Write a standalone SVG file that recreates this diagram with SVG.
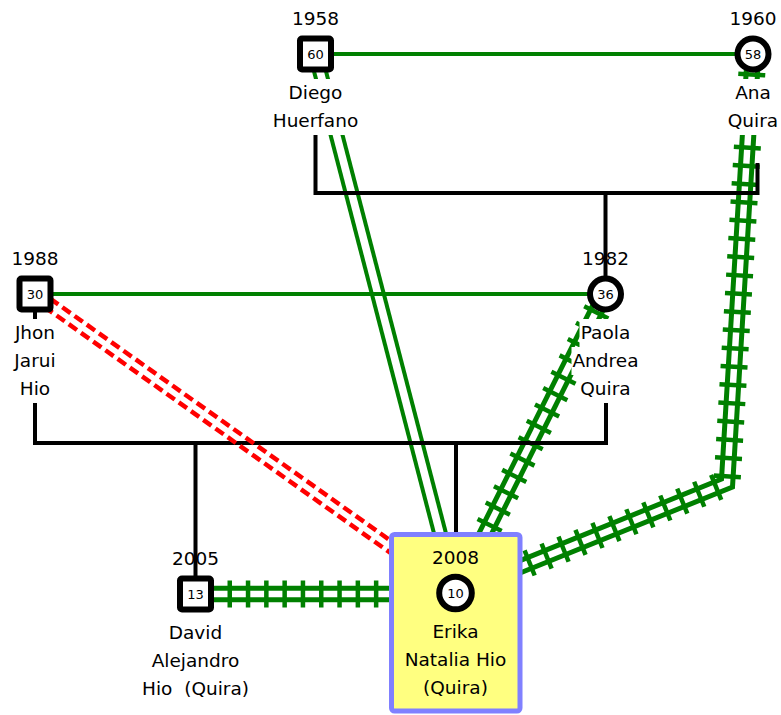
<svg xmlns="http://www.w3.org/2000/svg" width="781" height="715" viewBox="0 0 781 715">
<style>
.t{font-family:"DejaVu Sans","Liberation Sans",sans-serif;font-size:18.5px;fill:#000;text-anchor:middle}
.n{font-family:"DejaVu Sans","Liberation Sans",sans-serif;font-size:13px;fill:#000;text-anchor:middle}
.bg{fill:#fff}
.m{stroke:#008000;stroke-width:4;fill:none}
.g2{stroke:#008000;stroke-width:4;fill:none}
.hl{stroke:#008000;stroke-width:5;fill:none;stroke-linejoin:miter}
.ht{stroke:#008000;stroke-width:27;stroke-dasharray:4.5 13.8;fill:none;stroke-linejoin:miter}
.c{stroke:#000;stroke-width:4;fill:none;stroke-linejoin:miter;stroke-linecap:square}
.rd{stroke:#f00;stroke-width:4.5;stroke-dasharray:10 5;fill:none}
.sq{fill:#fff;stroke:#000;stroke-width:6}
.ci{fill:#fff;stroke:#000;stroke-width:6}
.hb{fill:#ffff80;stroke:#8080ff;stroke-width:5}
</style>
<rect width="781" height="715" fill="#fff"/>
<g id="connectors">
  <path class="ht" d="M753,54 L727,483 L455.5,593"/>
  <path class="hl" d="M758.7,54.35 L732.5,487 L457.7,598.3"/>
  <path class="hl" d="M747.3,53.65 L721.5,479 L453.3,587.7"/>
  <path class="ht" d="M605.5,294 L455.5,593"/>
  <path class="hl" d="M610.2,296.1 L460.7,595.6"/>
  <path class="hl" d="M599.9,290.9 L450.4,590.4"/>
  <path class="ht" d="M214,594 H392" stroke-dashoffset="4.8"/>
  <path class="hl" d="M214,588.25 H392"/>
  <path class="hl" d="M214,599.75 H392"/>
  <path class="g2" d="M321.1,52.5 L461.1,591.5"/>
  <path class="g2" d="M309.9,55.5 L449.9,594.5"/>
  <path class="m" d="M334,54 H735"/>
  <path class="m" d="M53,294 H588"/>
  <path class="c" d="M315.5,130 V193 H757.5 V165"/>
  <path class="c" d="M605.5,193 V276"/>
  <path class="c" d="M35,312 V443 H606 V400"/>
  <path class="c" d="M195.5,443 V577"/>
  <path class="c" d="M456,443 V533"/>
  <path class="rd" d="M37.9,289.9 L458.4,588.9"/>
  <path class="rd" d="M32.1,298.1 L452.6,597.1"/>
</g>
<g id="diego">
  <rect class="bg" x="287.5" y="79" width="56" height="28"/>
  <rect class="bg" x="271.5" y="107" width="88" height="28"/>
  <rect class="sq" x="300" y="38.5" width="31" height="31" rx="2"/>
  <text class="n" x="315.5" y="58.5">60</text>
  <text class="t" x="315.5" y="25">1958</text>
  <text class="t" x="315.5" y="99">Diego</text>
  <text class="t" x="315.5" y="127">Huerfano</text>
</g>
<g id="ana">
  <rect class="bg" x="734" y="79" width="38" height="28"/>
  <rect class="bg" x="727" y="107" width="52" height="28"/>
  <circle class="ci" cx="753" cy="54" r="15.5"/>
  <text class="n" x="753" y="58.5">58</text>
  <text class="t" x="753" y="25">1960</text>
  <text class="t" x="753" y="99">Ana</text>
  <text class="t" x="753" y="127">Quira</text>
</g>
<g id="jhon">
  <rect class="bg" x="14" y="319" width="42" height="28"/>
  <rect class="bg" x="13.5" y="347" width="43" height="28"/>
  <rect class="bg" x="19" y="375" width="32" height="28"/>
  <rect class="sq" x="19.5" y="278.5" width="31" height="31" rx="2"/>
  <text class="n" x="35" y="298.5">30</text>
  <text class="t" x="35" y="265">1988</text>
  <text class="t" x="35" y="339">Jhon</text>
  <text class="t" x="35" y="367">Jarui</text>
  <text class="t" x="35" y="395">Hio</text>
</g>
<g id="paola">
  <rect class="bg" x="579.5" y="319" width="52" height="28"/>
  <rect class="bg" x="571.5" y="347" width="68" height="28"/>
  <rect class="bg" x="579.5" y="375" width="52" height="28"/>
  <circle class="ci" cx="605.5" cy="294" r="15.5"/>
  <text class="n" x="605.5" y="298.5">36</text>
  <text class="t" x="605.5" y="265">1982</text>
  <text class="t" x="605.5" y="339">Paola</text>
  <text class="t" x="605.5" y="367">Andrea</text>
  <text class="t" x="605.5" y="395">Quira</text>
</g>
<g id="david">
  <rect class="sq" x="180" y="578.5" width="31" height="31" rx="2"/>
  <text class="n" x="195.5" y="598.5">13</text>
  <text class="t" x="195.5" y="565">2005</text>
  <text class="t" x="195.5" y="639">David</text>
  <text class="t" x="195.5" y="667">Alejandro</text>
  <text class="t" x="195.5" y="695" xml:space="preserve">Hio  (Quira)</text>
</g>
<g id="erika">
  <rect class="hb" x="391.5" y="534.5" width="128.5" height="176.5" rx="3"/>
  <circle class="ci" cx="455.5" cy="593" r="16.3"/>
  <text class="n" x="455.5" y="597.5">10</text>
  <text class="t" x="455.5" y="564">2008</text>
  <text class="t" x="455.5" y="638">Erika</text>
  <text class="t" x="455.5" y="666">Natalia Hio</text>
  <text class="t" x="455.5" y="694">(Quira)</text>
</g>
</svg>
